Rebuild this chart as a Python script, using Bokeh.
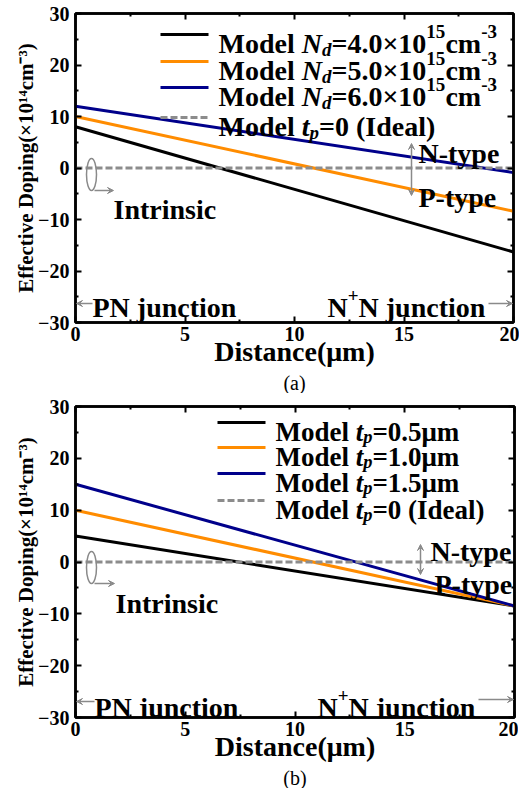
from bokeh.plotting import figure
from bokeh.models import Label, Arrow, VeeHead, LinearAxis, FixedTicker, Range1d, Title
from bokeh.layouts import column
from bokeh.embed import file_html
from bokeh.resources import INLINE

# ---------------- data ----------------
x_ticks = [0, 5, 10, 15, 20]
x_minor = [2.5, 7.5, 12.5, 17.5]
y_ticks = [-30, -20, -10, 0, 10, 20, 30]
y_minor = [-25, -15, -5, 5, 15, 25]

# panel (a): different drift doping Nd
x_a = [0, 20]
a_nd4 = [8.0, -16.3]
a_nd5 = [10.0, -8.4]
a_nd6 = [12.0, -0.9]
a_ideal = [0.0, 0.0]

# panel (b): different p-layer thickness tp
x_b = [0, 20]
b_tp05 = [5.0, -8.5]
b_tp10 = [10.0, -8.5]
b_tp15 = [15.0, -8.5]
b_ideal = [0.0, 0.0]

BLACK = "#000000"
ORANGE = "#FF8C00"
NAVY = "#00008B"
GRAY = "#8C8C8C"
AGRAY = "#8A8A8A"
SERIF = "Liberation Serif"

W_B = {' ': 250, '(': 333, ')': 333, '-': 333, '.': 250, '=': 570, '+': 570, '×': 570,
       'μ': 556, 'M': 944, 'N': 722, 'P': 611, 'I': 389, 'a': 500, 'c': 444, 'd': 556,
       'e': 444, 'i': 278, 'j': 333, 'l': 278, 'm': 833, 'n': 556, 'o': 500, 'p': 556,
       's': 389, 't': 333, 'u': 556, 'y': 500, 'r': 444}
W_BI = {'N': 722, 'd': 500, 't': 278, 'p': 500}


def tw(s, italic, size):
    tot = 0
    for ch in s:
        if italic and ch in W_BI:
            tot += W_BI[ch]
        else:
            tot += W_B.get(ch, 500)
    return tot * size / 1000.0


def to_data(F, px, py):
    x = (px - F[0]) / (F[2] - F[0]) * 20.0
    y = 30.0 - (py - F[1]) / (F[3] - F[1]) * 60.0
    return x, y


def rich(p, F, px, py, parts, size):
    cx = px
    for txt, kind, italic in parts:
        fs = size * 0.68 if kind in ("sub", "sup") else size
        shift = {"sub": -0.2 * size, "sup": 0.42 * size}.get(kind, 0.0)
        x, y = to_data(F, cx, py - shift)
        p.add_layout(Label(x=x, y=y, text=txt, text_font=SERIF,
                           text_font_style="bold italic" if italic else "bold",
                           text_font_size=f"{fs:.1f}px", text_baseline="alphabetic",
                           text_align="left", text_color="black"))
        cx += tw(txt, italic, fs)


def arrow(p, F, x0, y0, x1, y1, both=False, size=7):
    xs, ys = to_data(F, x0, y0)
    xe, ye = to_data(F, x1, y1)
    head = lambda: VeeHead(size=size, fill_color=AGRAY, line_color=AGRAY, line_width=1)
    p.add_layout(Arrow(x_start=xs, y_start=ys, x_end=xe, y_end=ye,
                       start=head() if both else None, end=head(),
                       line_color=AGRAY, line_width=1.5))


def make_fig(F, top, bottom, caption):
    fw = F[2] - F[0]
    fh = F[3] - F[1]
    p = figure(frame_width=fw, frame_height=fh, x_range=Range1d(0, 20),
               y_range=Range1d(-30, 30), output_backend="svg", toolbar_location=None,
               min_border_left=F[0], min_border_right=6, min_border_top=top,
               min_border_bottom=bottom, background_fill_color="white",
               border_fill_color="white")
    xb = p.below[0]
    yl = p.left[0]
    p.grid.visible = False
    p.outline_line_color = "black"
    p.outline_line_width = 2.5
    xb.ticker = FixedTicker(ticks=x_ticks, minor_ticks=x_minor)
    yl.ticker = FixedTicker(ticks=y_ticks, minor_ticks=y_minor)
    top_ax = LinearAxis(ticker=FixedTicker(ticks=x_ticks, minor_ticks=x_minor),
                        major_label_overrides={t: "" for t in x_ticks})
    right_ax = LinearAxis(ticker=FixedTicker(ticks=y_ticks, minor_ticks=y_minor),
                          major_label_overrides={t: "" for t in y_ticks})
    p.add_layout(top_ax, "above")
    p.add_layout(right_ax, "right")
    for ax in [xb, yl, top_ax, right_ax]:
        ax.axis_line_width = 2.5
        ax.axis_line_color = "black"
        ax.major_tick_in = 6
        ax.major_tick_out = 0
        ax.minor_tick_in = 3
        ax.minor_tick_out = 0
        ax.major_tick_line_width = 2
        ax.minor_tick_line_width = 2
        ax.major_label_text_font = SERIF
        ax.major_label_text_font_style = "bold"
        ax.major_label_text_font_size = "20px"
        ax.major_label_text_color = "black"
    for ax in [top_ax, right_ax]:
        ax.major_label_text_font_size = "1px"
        ax.major_label_standoff = 0
    xb.major_label_standoff = 4
    yl.major_label_standoff = 6
    xb.axis_label = "Distance(μm)"
    xb.axis_label_text_font = SERIF
    xb.axis_label_text_font_style = "bold"
    xb.axis_label_text_font_size = "28px"
    xb.axis_label_text_color = "black"
    xb.axis_label_standoff = -8
    yl.axis_label = "Effective Doping(×10¹⁴cm⁻³)"
    yl.axis_label_text_font = SERIF
    yl.axis_label_text_font_style = "bold"
    yl.axis_label_text_font_size = "21px"
    yl.axis_label_text_color = "black"
    yl.axis_label_standoff = -3
    p.add_layout(Title(text=caption, align="center", text_font=SERIF,
                       text_font_style="normal", text_font_size="20px",
                       text_color="black", standoff=0, offset=-6), "below")
    return p


# ---------------- panel (a) ----------------
FA = (75, 13, 513, 322)
pa = make_fig(FA, 13, 0, "(a)")
pa.line(x_a, a_nd4, line_color=BLACK, line_width=3)
pa.line(x_a, a_nd5, line_color=ORANGE, line_width=3)
pa.line(x_a, a_nd6, line_color=NAVY, line_width=3)
pa.line(x_a, a_ideal, line_color=GRAY, line_width=3, line_dash="7 3")

legend_a = [
    (BLACK, None, [("Model ", "n", False), ("N", "n", True), ("d", "sub", True),
                   ("=4.0×10", "n", False), ("15", "sup", False), ("cm", "n", False), ("-3", "sup", False)]),
    (ORANGE, None, [("Model ", "n", False), ("N", "n", True), ("d", "sub", True),
                    ("=5.0×10", "n", False), ("15", "sup", False), ("cm", "n", False), ("-3", "sup", False)]),
    (NAVY, None, [("Model ", "n", False), ("N", "n", True), ("d", "sub", True),
                  ("=6.0×10", "n", False), ("15", "sup", False), ("cm", "n", False), ("-3", "sup", False)]),
    (GRAY, "7 3", [("Model ", "n", False), ("t", "n", True), ("p", "sub", True),
                   ("=0 (Ideal)", "n", False)]),
]
rows_a = [34, 61, 87, 117]
for (col, dash, parts), ry in zip(legend_a, rows_a):
    x0, y0 = to_data(FA, 160, ry)
    x1, _ = to_data(FA, 208, ry)
    kw = dict(line_dash=dash) if dash else {}
    pa.line([x0, x1], [y0, y0], line_color=col, line_width=3, **kw)
    rich(pa, FA, 218, ry + 9, parts, 28)

rich(pa, FA, 418, 153, [("N-type", "n", False)], 28)
rich(pa, FA, 418, 197, [("P-type", "n", False)], 28)
arrow(pa, FA, 411, 195, 411, 143, both=True, size=6)
rich(pa, FA, 113, 209, [("Intrinsic", "n", False)], 28)
ex, ey = to_data(FA, 91, 174)
pa.ellipse(x=[ex], y=[ey], width=[10], height=[32], width_units="screen",
           height_units="screen", fill_color=None, line_color=AGRAY, line_width=1.5)
arrow(pa, FA, 94, 190, 113, 190, size=6)
rich(pa, FA, 92, 307, [("PN junction", "n", False)], 28)
arrow(pa, FA, 92, 303, 76, 303, size=6)
rich(pa, FA, 327, 307, [("N", "n", False), ("+", "sup", False), ("N junction", "n", False)], 28)
arrow(pa, FA, 488, 303, 512, 303, size=6)

# ---------------- panel (b) ----------------
FB = (73, 405, 512, 716)
pb = make_fig(FB, 13, 0, "(b)")
pb.line(x_b, b_tp05, line_color=BLACK, line_width=3)
pb.line(x_b, b_tp10, line_color=ORANGE, line_width=3)
pb.line(x_b, b_tp15, line_color=NAVY, line_width=3)
pb.line(x_b, b_ideal, line_color=GRAY, line_width=3, line_dash="7 3")

legend_b = [
    (BLACK, None, [("Model ", "n", False), ("t", "n", True), ("p", "sub", True), ("=0.5μm", "n", False)]),
    (ORANGE, None, [("Model ", "n", False), ("t", "n", True), ("p", "sub", True), ("=1.0μm", "n", False)]),
    (NAVY, None, [("Model ", "n", False), ("t", "n", True), ("p", "sub", True), ("=1.5μm", "n", False)]),
    (GRAY, "7 3", [("Model ", "n", False), ("t", "n", True), ("p", "sub", True), ("=0 (Ideal)", "n", False)]),
]
rows_b = [421, 446, 472, 499]
for (col, dash, parts), ry in zip(legend_b, rows_b):
    x0, y0 = to_data(FB, 215, ry)
    x1, _ = to_data(FB, 263, ry)
    kw = dict(line_dash=dash) if dash else {}
    pb.line([x0, x1], [y0, y0], line_color=col, line_width=3, **kw)
    rich(pb, FB, 273, ry + 9, parts, 27)

rich(pb, FB, 428, 550, [("N-type", "n", False)], 28)
rich(pb, FB, 432, 583, [("P-type", "n", False)], 28)
arrow(pb, FB, 418, 573, 418, 543, both=True, size=6)
rich(pb, FB, 113, 602, [("Intrinsic", "n", False)], 28)
ex, ey = to_data(FB, 89, 566)
pb.ellipse(x=[ex], y=[ey], width=[10], height=[32], width_units="screen",
           height_units="screen", fill_color=None, line_color=AGRAY, line_width=1.5)
arrow(pb, FB, 92, 582, 112, 582, size=6)
rich(pb, FB, 92, 706, [("PN junction", "n", False)], 28)
arrow(pb, FB, 92, 700, 74, 700, size=6)
rich(pb, FB, 315, 706, [("N", "n", False), ("+", "sup", False), ("N junction", "n", False)], 28)
arrow(pb, FB, 476, 698, 511, 698, size=6)

layout = column(pa, pb)
open("out.html", "w").write(file_html(layout, INLINE))
